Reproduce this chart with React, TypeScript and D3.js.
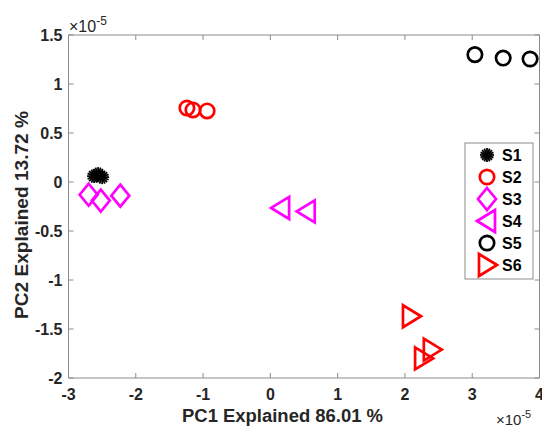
import React from "react";
import * as d3 from "d3";

// PCA scores (units of 1e-5)
const S1 = [[-2.62, 0.06], [-2.56, 0.08], [-2.5, 0.05]];
const S2 = [[-1.24, 0.755], [-1.15, 0.735], [-0.94, 0.725]];
const S3 = [[-2.7, -0.13], [-2.52, -0.19], [-2.23, -0.14]];
const S4 = [[0.16, -0.265], [0.54, -0.3]];
const S5 = [[3.04, 1.3], [3.46, 1.265], [3.86, 1.255]];
const S6 = [[2.09, -1.37], [2.4, -1.71], [2.27, -1.8]];

const seriesNames = ["S1", "S2", "S3", "S4", "S5", "S6"];
const xTicks = [-3, -2, -1, 0, 1, 2, 3, 4];
const yTicks = [-2, -1.5, -1, -0.5, 0, 0.5, 1, 1.5];
const xLabel = "PC1 Explained 86.01 %";
const yLabel = "PC2 Explained 13.72 %";

const W = 542, H = 427;
const left = 68.5, right = 539.5, top = 35, bottom = 378;
const x = d3.scaleLinear().domain([-3, 4]).range([left, right]);
const y = d3.scaleLinear().domain([-2, 1.5]).range([bottom, top]);

const RED = "#ff0000", MAG = "#ff00ff", BLK = "#000000";
const FONT = "'Liberation Sans', Arial, sans-serif";
const AX = "#262626";
const GRID = "#8c8c8c";

type Kind = "star" | "circle" | "diamond" | "tleft" | "tright";

function Marker({ kind, cx, cy, color }: { kind: Kind; cx: number; cy: number; color: string }) {
  const sw = 2.7;
  if (kind === "circle") return <circle cx={cx} cy={cy} r={7.2} fill="none" stroke={color} strokeWidth={sw} />;
  if (kind === "diamond") {
    return <path d={`M${cx},${cy - 11}L${cx + 9},${cy}L${cx},${cy + 11}L${cx - 9},${cy}Z`} fill="none" stroke={color} strokeWidth={sw} />;
  }
  if (kind === "tleft") {
    return <path d={`M${cx - 10},${cy}L${cx + 8},${cy - 11}L${cx + 8},${cy + 11}Z`} fill="none" stroke={color} strokeWidth={sw} />;
  }
  if (kind === "tright") {
    return <path d={`M${cx + 10},${cy}L${cx - 8},${cy - 11}L${cx - 8},${cy + 11}Z`} fill="none" stroke={color} strokeWidth={sw} />;
  }
  // asterisk
  const r = 7;
  const lines = [];
  for (let i = 0; i < 8; i++) {
    const a = (i * Math.PI) / 8;
    lines.push(
      <line key={i} x1={cx - r * Math.cos(a)} y1={cy - r * Math.sin(a)} x2={cx + r * Math.cos(a)} y2={cy + r * Math.sin(a)} stroke={color} strokeWidth={1.8} />
    );
  }
  return <g>{lines}</g>;
}

const series: { name: string; data: number[][]; kind: Kind; color: string }[] = [
  { name: seriesNames[0], data: S1, kind: "star", color: BLK },
  { name: seriesNames[1], data: S2, kind: "circle", color: RED },
  { name: seriesNames[2], data: S3, kind: "diamond", color: MAG },
  { name: seriesNames[3], data: S4, kind: "tleft", color: MAG },
  { name: seriesNames[4], data: S5, kind: "circle", color: BLK },
  { name: seriesNames[5], data: S6, kind: "tright", color: RED },
];

export default function App() {
  const legX = 465, legY = 143, legW = 68, legRow = 22;
  return (
    <svg width={W} height={H} style={{ position: "absolute", left: 0, top: 0, background: "#fff" }} fontFamily={FONT}>
      <rect x={0} y={0} width={W} height={H} fill="#fff" />
      {/* axes box */}
      <rect x={left} y={top} width={right - left} height={bottom - top} fill="none" stroke={GRID} strokeWidth={1} />
      {xTicks.map((t) => (
        <g key={"x" + t}>
          <line x1={x(t)} x2={x(t)} y1={bottom} y2={bottom - 5} stroke={GRID} />
          <line x1={x(t)} x2={x(t)} y1={top} y2={top + 5} stroke={GRID} />
          <text x={x(t)} y={bottom + 22} textAnchor="middle" fontSize={16} fontWeight="bold" fill={AX}>
            {t}
          </text>
        </g>
      ))}
      {yTicks.map((t) => (
        <g key={"y" + t}>
          <line x1={left} x2={left + 5} y1={y(t)} y2={y(t)} stroke={GRID} />
          <line x1={right} x2={right - 5} y1={y(t)} y2={y(t)} stroke={GRID} />
          <text x={left - 6} y={y(t) + 6} textAnchor="end" fontSize={16} fontWeight="bold" fill={AX}>
            {t}
          </text>
        </g>
      ))}
      {/* exponent labels */}
      <text x={69} y={32} fontSize={16} fill={AX}>
        ×10<tspan dy={-7} fontSize={12}>-5</tspan>
      </text>
      <text x={496} y={425} fontSize={15} fill={AX}>
        ×10<tspan dy={-7} fontSize={11}>-5</tspan>
      </text>
      {/* axis titles */}
      <text x={282.5} y={422} textAnchor="middle" fontSize={18} fontWeight="bold" fill={AX} textLength={201} lengthAdjust="spacingAndGlyphs">
        {xLabel}
      </text>
      <text transform={`translate(28,215) rotate(-90)`} textAnchor="middle" fontSize={18} fontWeight="bold" fill={AX} textLength={208} lengthAdjust="spacingAndGlyphs">
        {yLabel}
      </text>
      {/* data */}
      {series.map((s) => (
        <g key={s.name}>
          {s.data.map((d, i) => (
            <Marker key={i} kind={s.kind} cx={x(d[0])} cy={y(d[1])} color={s.color} />
          ))}
        </g>
      ))}
      {/* legend */}
      <rect x={legX} y={legY} width={legW} height={legRow * 6 + 4} fill="#fff" stroke={GRID} />
      {series.map((s, i) => {
        const cy = legY + 12 + i * legRow;
        return (
          <g key={"l" + s.name}>
            <Marker kind={s.kind} cx={487} cy={cy} color={s.color} />
            <text x={502} y={cy + 6} fontSize={16} fontWeight="bold" fill={BLK}>
              {s.name}
            </text>
          </g>
        );
      })}
    </svg>
  );
}
